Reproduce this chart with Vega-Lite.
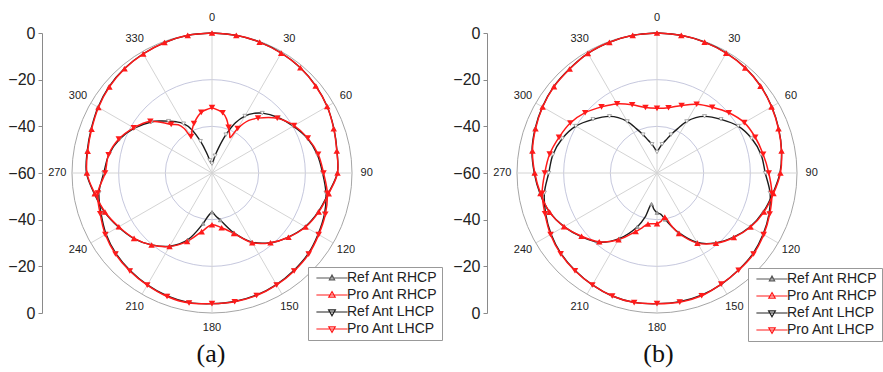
{
  "$schema": "https://vega.github.io/schema/vega-lite/v6.json",
  "padding": 0,
  "autosize": {"type": "pad"},
  "background": "white",
  "spacing": 0,
  "bounds": "flush",
  "config": {"view": {"stroke": null}, "font": "Liberation Sans"},
  "resolve": {
    "scale": {"x": "independent", "y": "independent", "fill": "independent", "stroke": "independent", "shape": "independent", "size": "independent"},
    "legend": {"fill": "independent", "stroke": "independent", "shape": "independent"}
  },
  "datasets": {
    "A": [
      {"t": 0, "RR": 0, "PR": 0, "RL": -56, "PL": -32.0},
      {"t": 5, "RL": -55.2},
      {"t": 10, "RR": -0.1, "PR": -0.1, "RL": -52.5, "PL": -33.8},
      {"t": 15, "RL": -48.5, "PL": -36},
      {"t": 20, "RR": -0.3, "PR": -0.3, "RL": -42.5, "PL": -39.2},
      {"t": 25, "RL": -36.2, "PL": -42},
      {"t": 27, "PL": -43},
      {"t": 30, "RR": -0.6, "PR": -0.7, "RL": -31.8, "PL": -38},
      {"t": 35, "RL": -28.8, "PL": -32.5},
      {"t": 40, "RR": -1.1, "PR": -1.1, "RL": -26.5, "PL": -29.3},
      {"t": 50, "RR": -1.9, "PR": -2.0, "RL": -23.0, "PL": -23.5},
      {"t": 60, "RR": -3.0, "PR": -3.0, "RL": -19.8, "PL": -19.4},
      {"t": 70, "RR": -4.4, "PR": -4.5, "RL": -16.5, "PL": -16.3},
      {"t": 80, "RR": -5.6, "PR": -5.7, "RL": -14.2, "PL": -13.8},
      {"t": 90, "RR": -6.3, "PR": -6.2, "RL": -12.6, "PL": -12.2},
      {"t": 100, "RR": -9.4, "PR": -9.2, "RL": -10.4, "PL": -9.8},
      {"t": 110, "RR": -11.5, "PR": -11.3, "RL": -8.7, "PL": -8.3},
      {"t": 120, "RR": -13.9, "PR": -13.7, "RL": -7.5, "PL": -7.2},
      {"t": 130, "RR": -17.3, "PR": -17.2, "RL": -6.2, "PL": -5.9},
      {"t": 140, "RR": -21.0, "PR": -21.0, "RL": -5.5, "PL": -5.2},
      {"t": 150, "RR": -25.8, "PR": -25.5, "RL": -4.8, "PL": -4.6},
      {"t": 160, "RR": -32.8, "PR": -32.4, "RL": -4.3, "PL": -4.1},
      {"t": 170, "RR": -39.5, "PR": -36.2, "RL": -4.1, "PL": -4.0},
      {"t": 175, "RR": -41.5},
      {"t": 180, "RR": -43.2, "PR": -37.8, "RL": -4.0, "PL": -4.0},
      {"t": 185, "RR": -41.5},
      {"t": 190, "RR": -38.0, "PR": -34.5, "RL": -3.6, "PL": -3.4},
      {"t": 200, "RR": -29.5, "PR": -28.8, "RL": -3.9, "PL": -3.7},
      {"t": 210, "RR": -23.8, "PR": -23.6, "RL": -4.6, "PL": -4.5},
      {"t": 220, "RR": -19.8, "PR": -19.7, "RL": -5.4, "PL": -5.2},
      {"t": 230, "RR": -16.3, "PR": -16.4, "RL": -6.3, "PL": -6.0},
      {"t": 240, "RR": -13.7, "PR": -13.9, "RL": -7.6, "PL": -7.2},
      {"t": 250, "RR": -11.0, "PR": -11.2, "RL": -9.4, "PL": -9.0},
      {"t": 260, "RR": -8.8, "PR": -9.0, "RL": -10.8, "PL": -10.3},
      {"t": 270, "RR": -6.2, "PR": -6.4, "RL": -13.6, "PL": -14.2},
      {"t": 280, "RR": -5.7, "PR": -5.9, "RL": -15.1, "PL": -15.0},
      {"t": 290, "RR": -4.9, "PR": -5.1, "RL": -17.8, "PL": -17.5},
      {"t": 300, "RR": -3.6, "PR": -3.8, "RL": -21.6, "PL": -21.3},
      {"t": 310, "RR": -2.4, "PR": -2.6, "RL": -26.0, "PL": -25.5},
      {"t": 315, "RL": -28.5},
      {"t": 320, "RR": -1.6, "PR": -1.7, "RL": -31.0, "PL": -32.8},
      {"t": 325, "RL": -33.2, "PL": -34.8},
      {"t": 328, "PL": -37.5},
      {"t": 330, "RR": -1.0, "PR": -1.1, "RL": -35.6, "PL": -42.0},
      {"t": 335, "RL": -39.5, "PL": -39.8},
      {"t": 340, "RR": -0.5, "PR": -0.5, "RL": -45.5, "PL": -37.4},
      {"t": 345, "RL": -51.0},
      {"t": 350, "RR": -0.1, "PR": -0.1, "RL": -54.5, "PL": -33.6},
      {"t": 355, "RL": -55.8},
      {"t": 360, "RR": 0, "PR": 0, "RL": -56, "PL": -32.0}
    ],
    "B": [
      {"t": 0, "RR": 0, "PR": 0, "RL": -51.0, "PL": -32.3},
      {"t": 5, "RL": -49.5},
      {"t": 10, "RR": -0.1, "PR": -0.1, "RL": -47.5, "PL": -31.6},
      {"t": 15, "RL": -45.5},
      {"t": 20, "RR": -0.3, "PR": -0.3, "RL": -42.5, "PL": -29.2},
      {"t": 25, "RL": -39.0},
      {"t": 30, "RR": -0.6, "PR": -0.7, "RL": -34.5, "PL": -26.0},
      {"t": 35, "RL": -31.0},
      {"t": 40, "RR": -1.1, "PR": -1.2, "RL": -28.3, "PL": -23.2},
      {"t": 50, "RR": -2.0, "PR": -2.1, "RL": -24.2, "PL": -19.8},
      {"t": 60, "RR": -3.2, "PR": -3.3, "RL": -19.8, "PL": -16.8},
      {"t": 70, "RR": -4.5, "PR": -4.6, "RL": -16.8, "PL": -15.2},
      {"t": 80, "RR": -5.8, "PR": -5.8, "RL": -14.7, "PL": -13.8},
      {"t": 90, "RR": -7.3, "PR": -7.1, "RL": -13.6, "PL": -12.1},
      {"t": 100, "RR": -9.6, "PR": -9.3, "RL": -10.8, "PL": -10.0},
      {"t": 110, "RR": -11.5, "PR": -11.2, "RL": -8.9, "PL": -8.6},
      {"t": 120, "RR": -13.9, "PR": -13.7, "RL": -7.5, "PL": -7.2},
      {"t": 130, "RR": -17.2, "PR": -17.0, "RL": -6.3, "PL": -6.0},
      {"t": 140, "RR": -20.9, "PR": -20.7, "RL": -5.7, "PL": -5.6},
      {"t": 150, "RR": -25.6, "PR": -25.3, "RL": -4.9, "PL": -5.0},
      {"t": 160, "RR": -32.8, "PR": -32.4, "RL": -4.3, "PL": -4.0},
      {"t": 165, "RR": -36.5, "PR": -36.8},
      {"t": 170, "RR": -39.8, "PR": -40.8, "RL": -4.0, "PL": -3.8},
      {"t": 175, "RR": -42.3, "PR": -39.3},
      {"t": 180, "RR": -43.0, "PR": -38.3, "RL": -4.0, "PL": -4.0},
      {"t": 185, "RR": -44.5},
      {"t": 190, "RR": -46.5, "PR": -37.8, "RL": -3.7, "PL": -3.6},
      {"t": 195, "RR": -40.5, "PR": -35.8},
      {"t": 200, "RR": -35.5, "PR": -33.3, "RL": -3.9, "PL": -3.9},
      {"t": 210, "RR": -27.5, "PR": -27.0, "RL": -4.6, "PL": -4.6},
      {"t": 220, "RR": -21.3, "PR": -21.5, "RL": -5.4, "PL": -5.3},
      {"t": 230, "RR": -17.6, "PR": -17.8, "RL": -6.3, "PL": -6.1},
      {"t": 240, "RR": -14.0, "PR": -14.0, "RL": -7.6, "PL": -7.3},
      {"t": 250, "RR": -11.0, "PR": -11.0, "RL": -9.2, "PL": -8.9},
      {"t": 260, "RR": -9.1, "PR": -9.3, "RL": -11.0, "PL": -10.0},
      {"t": 270, "RR": -7.4, "PR": -7.6, "RL": -13.6, "PL": -11.9},
      {"t": 280, "RR": -5.6, "PR": -5.8, "RL": -14.7, "PL": -13.3},
      {"t": 290, "RR": -4.4, "PR": -4.6, "RL": -16.8, "PL": -15.3},
      {"t": 300, "RR": -3.3, "PR": -3.4, "RL": -19.8, "PL": -17.1},
      {"t": 310, "RR": -2.3, "PR": -2.4, "RL": -24.2, "PL": -19.8},
      {"t": 320, "RR": -1.7, "PR": -1.8, "RL": -28.3, "PL": -23.0},
      {"t": 325, "RL": -31.0},
      {"t": 330, "RR": -0.8, "PR": -0.8, "RL": -34.5, "PL": -25.8},
      {"t": 335, "RL": -39.0},
      {"t": 340, "RR": -0.4, "PR": -0.4, "RL": -42.5, "PL": -28.9},
      {"t": 345, "RL": -45.5},
      {"t": 350, "RR": -0.1, "PR": -0.1, "RL": -47.5, "PL": -31.5},
      {"t": 355, "RL": -49.5},
      {"t": 360, "RR": 0, "PR": 0, "RL": -51.0, "PL": -32.3}
    ]
  },
  "hconcat": [
    {
      "width": 440,
      "height": 372,
      "title": {"text": "(a)", "orient": "bottom", "frame": "group", "anchor": "middle", "offset": -31, "dx": -9, "font": "Liberation Serif", "fontSize": 26, "fontWeight": "normal", "color": "#111111"},
      "layer": [
        {
          "data": {"values": [{"g": -40}, {"g": -20}, {"g": 0}]},
          "transform": [{"calculate": "datum.g + 60", "as": "rr"}, {"calculate": "0", "as": "cx"}],
          "mark": {"type": "point", "shape": "circle", "filled": false, "strokeWidth": 1, "opacity": 1},
          "encoding": {
            "x": {"field": "cx", "type": "quantitative", "scale": {"domain": [-60, 60], "range": [72, 352], "nice": false, "zero": false}, "axis": null},
            "y": {"field": "cx", "type": "quantitative", "scale": {"domain": [-60, 60], "range": [313, 33], "nice": false, "zero": false},
              "axis": {"values": [-60, -50, -40, -30, -20, -10, 0, 10, 20, 30, 40, 50, 60], "labelExpr": "datum.value % 20 == 0 ? format(abs(datum.value) - 60, 'd') : ''", "offset": -42, "domain": true, "ticks": true, "domainColor": "#8a8a8a", "tickColor": "#8a8a8a", "tickSize": 4, "labelFont": "Liberation Sans", "labelFontSize": 16, "labelColor": "#222222", "labelPadding": 3, "grid": false, "title": null, "labelOverlap": false}},
            "size": {"field": "rr", "type": "quantitative", "scale": {"type": "pow", "exponent": 2, "domain": [0, 60], "range": [0, 78400]}, "legend": null},
            "stroke": {"condition": {"test": "datum.g == 0", "value": "#a6a6a6"}, "value": "#c6c8de"}
          }
        },
        {
          "data": {"values": [{"a": 0}, {"a": 30}, {"a": 60}, {"a": 90}, {"a": 120}, {"a": 150}, {"a": 180}, {"a": 210}, {"a": 240}, {"a": 270}, {"a": 300}, {"a": 330}]},
          "transform": [{"calculate": "60 * sin(datum.a * PI / 180)", "as": "sx"}, {"calculate": "60 * cos(datum.a * PI / 180)", "as": "sy"}, {"calculate": "0", "as": "cx"}],
          "mark": {"type": "rule", "color": "#d4d4d4", "strokeWidth": 1},
          "encoding": {
            "x": {"field": "cx", "type": "quantitative", "scale": {"domain": [-60, 60], "range": [72, 352], "nice": false, "zero": false}, "axis": null},
            "y": {"field": "cx", "type": "quantitative", "scale": {"domain": [-60, 60], "range": [313, 33], "nice": false, "zero": false}},
            "x2": {"field": "sx"},
            "y2": {"field": "sy"}
          }
        },
        {
          "data": {"values": [{"a": 0}, {"a": 30}, {"a": 60}, {"a": 90}, {"a": 120}, {"a": 150}, {"a": 180}, {"a": 210}, {"a": 240}, {"a": 270}, {"a": 300}, {"a": 330}]},
          "transform": [{"calculate": "66.3 * sin(datum.a * PI / 180)", "as": "lx"}, {"calculate": "66.3 * cos(datum.a * PI / 180)", "as": "ly"}],
          "mark": {"type": "text", "font": "Liberation Sans", "fontSize": 11, "color": "#222222", "align": "center", "baseline": "middle"},
          "encoding": {
            "x": {"field": "lx", "type": "quantitative", "scale": {"domain": [-60, 60], "range": [72, 352], "nice": false, "zero": false}, "axis": null},
            "y": {"field": "ly", "type": "quantitative", "scale": {"domain": [-60, 60], "range": [313, 33], "nice": false, "zero": false}},
            "text": {"field": "a", "type": "quantitative", "format": "d"}
          }
        },
        {
          "data": {"name": "A"},
          "transform": [
            {"fold": ["RR", "RL"], "as": ["k", "v"]},
            {"filter": "isValid(datum.v)"},
            {"calculate": "(datum.v + 60) * sin(datum.t * PI / 180)", "as": "px"},
            {"calculate": "(datum.v + 60) * cos(datum.t * PI / 180)", "as": "py"}
          ],
          "mark": {"type": "line", "color": "#1c1c1c", "strokeWidth": 1.4, "interpolate": "catmull-rom"},
          "encoding": {
            "x": {"field": "px", "type": "quantitative", "scale": {"domain": [-60, 60], "range": [72, 352], "nice": false, "zero": false}, "axis": null},
            "y": {"field": "py", "type": "quantitative", "scale": {"domain": [-60, 60], "range": [313, 33], "nice": false, "zero": false}},
            "detail": {"field": "k", "type": "nominal"},
            "order": {"field": "t", "type": "quantitative"}
          }
        },
        {
          "data": {"name": "A"},
          "transform": [
            {"fold": ["PR", "PL"], "as": ["k", "v"]},
            {"filter": "isValid(datum.v)"},
            {"calculate": "(datum.v + 60) * sin(datum.t * PI / 180)", "as": "px"},
            {"calculate": "(datum.v + 60) * cos(datum.t * PI / 180)", "as": "py"}
          ],
          "mark": {"type": "line", "color": "#ff1a1a", "strokeWidth": 1.5, "interpolate": "catmull-rom"},
          "encoding": {
            "x": {"field": "px", "type": "quantitative", "scale": {"domain": [-60, 60], "range": [72, 352], "nice": false, "zero": false}, "axis": null},
            "y": {"field": "py", "type": "quantitative", "scale": {"domain": [-60, 60], "range": [313, 33], "nice": false, "zero": false}},
            "detail": {"field": "k", "type": "nominal"},
            "order": {"field": "t", "type": "quantitative"}
          }
        },
        {
          "data": {"name": "A"},
          "transform": [
            {"fold": ["RR"], "as": ["k", "v"]},
            {"filter": "isValid(datum.v) && datum.t % 10 == 0 && datum.t < 360"},
            {"calculate": "(datum.v + 60) * sin(datum.t * PI / 180)", "as": "px"},
            {"calculate": "(datum.v + 60) * cos(datum.t * PI / 180)", "as": "py"}
          ],
          "mark": {"type": "point", "shape": "triangle-up", "filled": true, "size": 16, "fill": "#aaaaaa", "stroke": "#777777", "strokeWidth": 0.6, "opacity": 1},
          "encoding": {
            "x": {"field": "px", "type": "quantitative", "scale": {"domain": [-60, 60], "range": [72, 352], "nice": false, "zero": false}, "axis": null},
            "y": {"field": "py", "type": "quantitative", "scale": {"domain": [-60, 60], "range": [313, 33], "nice": false, "zero": false}}
          }
        },
        {
          "data": {"name": "A"},
          "transform": [
            {"fold": ["RL"], "as": ["k", "v"]},
            {"filter": "isValid(datum.v) && datum.t % 10 == 0 && datum.t < 360"},
            {"calculate": "(datum.v + 60) * sin(datum.t * PI / 180)", "as": "px"},
            {"calculate": "(datum.v + 60) * cos(datum.t * PI / 180)", "as": "py"}
          ],
          "mark": {"type": "point", "shape": "triangle-down", "filled": true, "size": 16, "fill": "#ffffff", "stroke": "#888888", "strokeWidth": 0.7, "opacity": 1},
          "encoding": {
            "x": {"field": "px", "type": "quantitative", "scale": {"domain": [-60, 60], "range": [72, 352], "nice": false, "zero": false}, "axis": null},
            "y": {"field": "py", "type": "quantitative", "scale": {"domain": [-60, 60], "range": [313, 33], "nice": false, "zero": false}}
          }
        },
        {
          "data": {"name": "A"},
          "transform": [
            {"fold": ["PR"], "as": ["k", "v"]},
            {"filter": "isValid(datum.v) && datum.t % 10 == 0 && datum.t < 360"},
            {"calculate": "(datum.v + 60) * sin(datum.t * PI / 180)", "as": "px"},
            {"calculate": "(datum.v + 60) * cos(datum.t * PI / 180)", "as": "py"}
          ],
          "mark": {"type": "point", "shape": "triangle-up", "filled": true, "size": 42, "color": "#ff1a1a", "opacity": 1},
          "encoding": {
            "x": {"field": "px", "type": "quantitative", "scale": {"domain": [-60, 60], "range": [72, 352], "nice": false, "zero": false}, "axis": null},
            "y": {"field": "py", "type": "quantitative", "scale": {"domain": [-60, 60], "range": [313, 33], "nice": false, "zero": false}}
          }
        },
        {
          "data": {"name": "A"},
          "transform": [
            {"fold": ["PL"], "as": ["k", "v"]},
            {"filter": "isValid(datum.v) && datum.t % 10 == 0 && datum.t < 360"},
            {"calculate": "(datum.v + 60) * sin(datum.t * PI / 180)", "as": "px"},
            {"calculate": "(datum.v + 60) * cos(datum.t * PI / 180)", "as": "py"}
          ],
          "mark": {"type": "point", "shape": "triangle-down", "filled": true, "size": 42, "color": "#ff1a1a", "opacity": 1},
          "encoding": {
            "x": {"field": "px", "type": "quantitative", "scale": {"domain": [-60, 60], "range": [72, 352], "nice": false, "zero": false}, "axis": null},
            "y": {"field": "py", "type": "quantitative", "scale": {"domain": [-60, 60], "range": [313, 33], "nice": false, "zero": false}}
          }
        },
        {
          "data": {"values": [{"s": "Ref Ant RHCP"}, {"s": "Pro Ant RHCP"}, {"s": "Ref Ant LHCP"}, {"s": "Pro Ant LHCP"}]},
          "transform": [{"calculate": "0", "as": "cx"}],
          "mark": {"type": "point", "filled": true, "opacity": 0, "strokeWidth": 1.3},
          "encoding": {
            "x": {"field": "cx", "type": "quantitative", "scale": {"domain": [-60, 60], "range": [72, 352], "nice": false, "zero": false}, "axis": null},
            "y": {"field": "cx", "type": "quantitative", "scale": {"domain": [-60, 60], "range": [313, 33], "nice": false, "zero": false}},
            "fill": {"field": "s", "type": "nominal", "scale": {"domain": ["Ref Ant RHCP", "Pro Ant RHCP", "Ref Ant LHCP", "Pro Ant LHCP"], "range": ["#9a9a9a", "#ff1a1a", "#ffffff", "#ff1a1a"]},
              "legend": {"title": null, "orient": "none", "legendX": 308, "legendY": 267, "labelFont": "Liberation Sans", "labelFontSize": 14, "labelColor": "#222222", "symbolSize": 64, "symbolStrokeWidth": 1.2, "symbolOffset": 13, "labelOffset": 8, "padding": 4, "rowPadding": 3, "strokeColor": "#999999", "fillColor": "#ffffff", "cornerRadius": 0}},
            "stroke": {"field": "s", "type": "nominal", "scale": {"domain": ["Ref Ant RHCP", "Pro Ant RHCP", "Ref Ant LHCP", "Pro Ant LHCP"], "range": ["#555555", "#ff1a1a", "#222222", "#ff1a1a"]},
              "legend": {"title": null, "orient": "none", "legendX": 308, "legendY": 267, "labelFont": "Liberation Sans", "labelFontSize": 14, "labelColor": "#222222", "symbolSize": 64, "symbolStrokeWidth": 1.2, "symbolOffset": 13, "labelOffset": 8, "padding": 4, "rowPadding": 3, "strokeColor": "#999999", "fillColor": "#ffffff", "cornerRadius": 0}},
            "shape": {"field": "s", "type": "nominal", "scale": {"domain": ["Ref Ant RHCP", "Pro Ant RHCP", "Ref Ant LHCP", "Pro Ant LHCP"], "range": ["M-3.9,0L3.9,0M0,-0.75L0.65,0.45L-0.65,0.45Z", "M-3.9,0L3.9,0M0,-0.85L0.8,0.55L-0.8,0.55Z", "M-3.9,0L3.9,0M0,0.95L0.85,-0.55L-0.85,-0.55Z", "M-3.9,0L3.9,0M0,0.85L0.8,-0.55L-0.8,-0.55Z"]},
              "legend": {"title": null, "orient": "none", "legendX": 308, "legendY": 267, "labelFont": "Liberation Sans", "labelFontSize": 14, "labelColor": "#222222", "symbolSize": 64, "symbolStrokeWidth": 1.2, "symbolOffset": 13, "labelOffset": 8, "padding": 4, "rowPadding": 3, "strokeColor": "#999999", "fillColor": "#ffffff", "cornerRadius": 0}}
          }
        }
      ]
    },
    {
      "width": 443,
      "height": 372,
      "title": {"text": "(b)", "orient": "bottom", "frame": "group", "anchor": "middle", "offset": -31, "dx": -3, "font": "Liberation Serif", "fontSize": 26, "fontWeight": "normal", "color": "#111111"},
      "layer": [
        {
          "data": {"values": [{"g": -40}, {"g": -20}, {"g": 0}]},
          "transform": [{"calculate": "datum.g + 60", "as": "rr"}, {"calculate": "0", "as": "cx"}],
          "mark": {"type": "point", "shape": "circle", "filled": false, "strokeWidth": 1, "opacity": 1},
          "encoding": {
            "x": {"field": "cx", "type": "quantitative", "scale": {"domain": [-60, 60], "range": [77, 357], "nice": false, "zero": false}, "axis": null},
            "y": {"field": "cx", "type": "quantitative", "scale": {"domain": [-60, 60], "range": [313, 33], "nice": false, "zero": false},
              "axis": {"values": [-60, -50, -40, -30, -20, -10, 0, 10, 20, 30, 40, 50, 60], "labelExpr": "datum.value % 20 == 0 ? format(abs(datum.value) - 60, 'd') : ''", "offset": -47, "domain": true, "ticks": true, "domainColor": "#8a8a8a", "tickColor": "#8a8a8a", "tickSize": 4, "labelFont": "Liberation Sans", "labelFontSize": 16, "labelColor": "#222222", "labelPadding": 3, "grid": false, "title": null, "labelOverlap": false}},
            "size": {"field": "rr", "type": "quantitative", "scale": {"type": "pow", "exponent": 2, "domain": [0, 60], "range": [0, 78400]}, "legend": null},
            "stroke": {"condition": {"test": "datum.g == 0", "value": "#a6a6a6"}, "value": "#c6c8de"}
          }
        },
        {
          "data": {"values": [{"a": 0}, {"a": 30}, {"a": 60}, {"a": 90}, {"a": 120}, {"a": 150}, {"a": 180}, {"a": 210}, {"a": 240}, {"a": 270}, {"a": 300}, {"a": 330}]},
          "transform": [{"calculate": "60 * sin(datum.a * PI / 180)", "as": "sx"}, {"calculate": "60 * cos(datum.a * PI / 180)", "as": "sy"}, {"calculate": "0", "as": "cx"}],
          "mark": {"type": "rule", "color": "#d4d4d4", "strokeWidth": 1},
          "encoding": {
            "x": {"field": "cx", "type": "quantitative", "scale": {"domain": [-60, 60], "range": [77, 357], "nice": false, "zero": false}, "axis": null},
            "y": {"field": "cx", "type": "quantitative", "scale": {"domain": [-60, 60], "range": [313, 33], "nice": false, "zero": false}},
            "x2": {"field": "sx"},
            "y2": {"field": "sy"}
          }
        },
        {
          "data": {"values": [{"a": 0}, {"a": 30}, {"a": 60}, {"a": 90}, {"a": 120}, {"a": 150}, {"a": 180}, {"a": 210}, {"a": 240}, {"a": 270}, {"a": 300}, {"a": 330}]},
          "transform": [{"calculate": "66.3 * sin(datum.a * PI / 180)", "as": "lx"}, {"calculate": "66.3 * cos(datum.a * PI / 180)", "as": "ly"}],
          "mark": {"type": "text", "font": "Liberation Sans", "fontSize": 11, "color": "#222222", "align": "center", "baseline": "middle"},
          "encoding": {
            "x": {"field": "lx", "type": "quantitative", "scale": {"domain": [-60, 60], "range": [77, 357], "nice": false, "zero": false}, "axis": null},
            "y": {"field": "ly", "type": "quantitative", "scale": {"domain": [-60, 60], "range": [313, 33], "nice": false, "zero": false}},
            "text": {"field": "a", "type": "quantitative", "format": "d"}
          }
        },
        {
          "data": {"name": "B"},
          "transform": [
            {"fold": ["RR", "RL"], "as": ["k", "v"]},
            {"filter": "isValid(datum.v)"},
            {"calculate": "(datum.v + 60) * sin(datum.t * PI / 180)", "as": "px"},
            {"calculate": "(datum.v + 60) * cos(datum.t * PI / 180)", "as": "py"}
          ],
          "mark": {"type": "line", "color": "#1c1c1c", "strokeWidth": 1.4, "interpolate": "catmull-rom"},
          "encoding": {
            "x": {"field": "px", "type": "quantitative", "scale": {"domain": [-60, 60], "range": [77, 357], "nice": false, "zero": false}, "axis": null},
            "y": {"field": "py", "type": "quantitative", "scale": {"domain": [-60, 60], "range": [313, 33], "nice": false, "zero": false}},
            "detail": {"field": "k", "type": "nominal"},
            "order": {"field": "t", "type": "quantitative"}
          }
        },
        {
          "data": {"name": "B"},
          "transform": [
            {"fold": ["PR", "PL"], "as": ["k", "v"]},
            {"filter": "isValid(datum.v)"},
            {"calculate": "(datum.v + 60) * sin(datum.t * PI / 180)", "as": "px"},
            {"calculate": "(datum.v + 60) * cos(datum.t * PI / 180)", "as": "py"}
          ],
          "mark": {"type": "line", "color": "#ff1a1a", "strokeWidth": 1.5, "interpolate": "catmull-rom"},
          "encoding": {
            "x": {"field": "px", "type": "quantitative", "scale": {"domain": [-60, 60], "range": [77, 357], "nice": false, "zero": false}, "axis": null},
            "y": {"field": "py", "type": "quantitative", "scale": {"domain": [-60, 60], "range": [313, 33], "nice": false, "zero": false}},
            "detail": {"field": "k", "type": "nominal"},
            "order": {"field": "t", "type": "quantitative"}
          }
        },
        {
          "data": {"name": "B"},
          "transform": [
            {"fold": ["RR"], "as": ["k", "v"]},
            {"filter": "isValid(datum.v) && datum.t % 10 == 0 && datum.t < 360"},
            {"calculate": "(datum.v + 60) * sin(datum.t * PI / 180)", "as": "px"},
            {"calculate": "(datum.v + 60) * cos(datum.t * PI / 180)", "as": "py"}
          ],
          "mark": {"type": "point", "shape": "triangle-up", "filled": true, "size": 16, "fill": "#aaaaaa", "stroke": "#777777", "strokeWidth": 0.6, "opacity": 1},
          "encoding": {
            "x": {"field": "px", "type": "quantitative", "scale": {"domain": [-60, 60], "range": [77, 357], "nice": false, "zero": false}, "axis": null},
            "y": {"field": "py", "type": "quantitative", "scale": {"domain": [-60, 60], "range": [313, 33], "nice": false, "zero": false}}
          }
        },
        {
          "data": {"name": "B"},
          "transform": [
            {"fold": ["RL"], "as": ["k", "v"]},
            {"filter": "isValid(datum.v) && datum.t % 10 == 0 && datum.t < 360"},
            {"calculate": "(datum.v + 60) * sin(datum.t * PI / 180)", "as": "px"},
            {"calculate": "(datum.v + 60) * cos(datum.t * PI / 180)", "as": "py"}
          ],
          "mark": {"type": "point", "shape": "triangle-down", "filled": true, "size": 16, "fill": "#ffffff", "stroke": "#888888", "strokeWidth": 0.7, "opacity": 1},
          "encoding": {
            "x": {"field": "px", "type": "quantitative", "scale": {"domain": [-60, 60], "range": [77, 357], "nice": false, "zero": false}, "axis": null},
            "y": {"field": "py", "type": "quantitative", "scale": {"domain": [-60, 60], "range": [313, 33], "nice": false, "zero": false}}
          }
        },
        {
          "data": {"name": "B"},
          "transform": [
            {"fold": ["PR"], "as": ["k", "v"]},
            {"filter": "isValid(datum.v) && datum.t % 10 == 0 && datum.t < 360"},
            {"calculate": "(datum.v + 60) * sin(datum.t * PI / 180)", "as": "px"},
            {"calculate": "(datum.v + 60) * cos(datum.t * PI / 180)", "as": "py"}
          ],
          "mark": {"type": "point", "shape": "triangle-up", "filled": true, "size": 42, "color": "#ff1a1a", "opacity": 1},
          "encoding": {
            "x": {"field": "px", "type": "quantitative", "scale": {"domain": [-60, 60], "range": [77, 357], "nice": false, "zero": false}, "axis": null},
            "y": {"field": "py", "type": "quantitative", "scale": {"domain": [-60, 60], "range": [313, 33], "nice": false, "zero": false}}
          }
        },
        {
          "data": {"name": "B"},
          "transform": [
            {"fold": ["PL"], "as": ["k", "v"]},
            {"filter": "isValid(datum.v) && datum.t % 10 == 0 && datum.t < 360"},
            {"calculate": "(datum.v + 60) * sin(datum.t * PI / 180)", "as": "px"},
            {"calculate": "(datum.v + 60) * cos(datum.t * PI / 180)", "as": "py"}
          ],
          "mark": {"type": "point", "shape": "triangle-down", "filled": true, "size": 42, "color": "#ff1a1a", "opacity": 1},
          "encoding": {
            "x": {"field": "px", "type": "quantitative", "scale": {"domain": [-60, 60], "range": [77, 357], "nice": false, "zero": false}, "axis": null},
            "y": {"field": "py", "type": "quantitative", "scale": {"domain": [-60, 60], "range": [313, 33], "nice": false, "zero": false}}
          }
        },
        {
          "data": {"values": [{"s": "Ref Ant RHCP"}, {"s": "Pro Ant RHCP"}, {"s": "Ref Ant LHCP"}, {"s": "Pro Ant LHCP"}]},
          "transform": [{"calculate": "0", "as": "cx"}],
          "mark": {"type": "point", "filled": true, "opacity": 0, "strokeWidth": 1.3},
          "encoding": {
            "x": {"field": "cx", "type": "quantitative", "scale": {"domain": [-60, 60], "range": [77, 357], "nice": false, "zero": false}, "axis": null},
            "y": {"field": "cx", "type": "quantitative", "scale": {"domain": [-60, 60], "range": [313, 33], "nice": false, "zero": false}},
            "fill": {"field": "s", "type": "nominal", "scale": {"domain": ["Ref Ant RHCP", "Pro Ant RHCP", "Ref Ant LHCP", "Pro Ant LHCP"], "range": ["#9a9a9a", "#ff1a1a", "#ffffff", "#ff1a1a"]},
              "legend": {"title": null, "orient": "none", "legendX": 308, "legendY": 268, "labelFont": "Liberation Sans", "labelFontSize": 14, "labelColor": "#222222", "symbolSize": 64, "symbolStrokeWidth": 1.2, "symbolOffset": 13, "labelOffset": 8, "padding": 4, "rowPadding": 3, "strokeColor": "#999999", "fillColor": "#ffffff", "cornerRadius": 0}},
            "stroke": {"field": "s", "type": "nominal", "scale": {"domain": ["Ref Ant RHCP", "Pro Ant RHCP", "Ref Ant LHCP", "Pro Ant LHCP"], "range": ["#555555", "#ff1a1a", "#222222", "#ff1a1a"]},
              "legend": {"title": null, "orient": "none", "legendX": 308, "legendY": 268, "labelFont": "Liberation Sans", "labelFontSize": 14, "labelColor": "#222222", "symbolSize": 64, "symbolStrokeWidth": 1.2, "symbolOffset": 13, "labelOffset": 8, "padding": 4, "rowPadding": 3, "strokeColor": "#999999", "fillColor": "#ffffff", "cornerRadius": 0}},
            "shape": {"field": "s", "type": "nominal", "scale": {"domain": ["Ref Ant RHCP", "Pro Ant RHCP", "Ref Ant LHCP", "Pro Ant LHCP"], "range": ["M-3.9,0L3.9,0M0,-0.75L0.65,0.45L-0.65,0.45Z", "M-3.9,0L3.9,0M0,-0.85L0.8,0.55L-0.8,0.55Z", "M-3.9,0L3.9,0M0,0.95L0.85,-0.55L-0.85,-0.55Z", "M-3.9,0L3.9,0M0,0.85L0.8,-0.55L-0.8,-0.55Z"]},
              "legend": {"title": null, "orient": "none", "legendX": 308, "legendY": 268, "labelFont": "Liberation Sans", "labelFontSize": 14, "labelColor": "#222222", "symbolSize": 64, "symbolStrokeWidth": 1.2, "symbolOffset": 13, "labelOffset": 8, "padding": 4, "rowPadding": 3, "strokeColor": "#999999", "fillColor": "#ffffff", "cornerRadius": 0}}
          }
        }
      ]
    }
  ]
}
